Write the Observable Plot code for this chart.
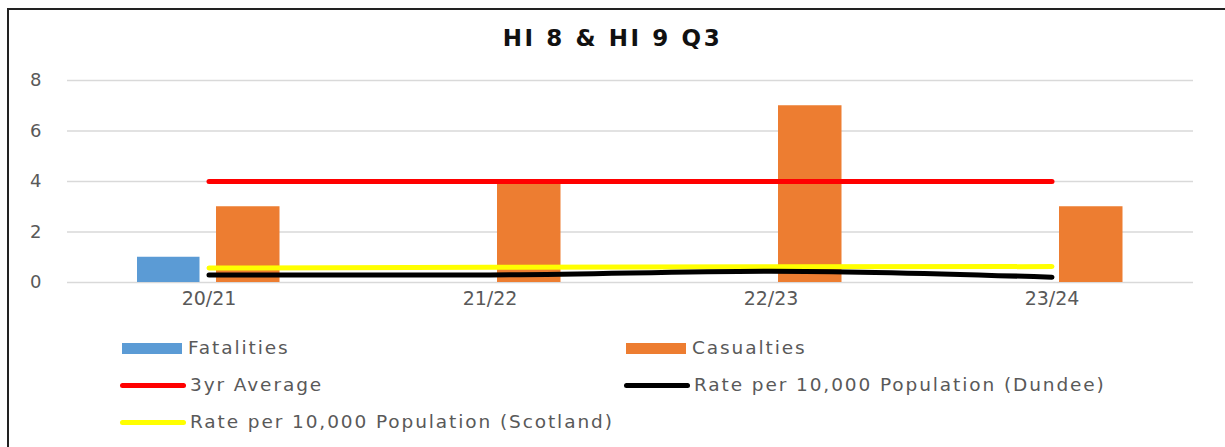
<!DOCTYPE html>
<html>
<head>
<meta charset="utf-8">
<script src="https://cdn.jsdelivr.net/npm/d3@7"></script>
<script src="https://cdn.jsdelivr.net/npm/@observablehq/plot@0.6"></script>
<style>
  html, body { margin: 0; padding: 0; background: #fff; }
  #wrap { position: relative; width: 1225px; height: 447px; overflow: hidden; background: #fff; }
  #frame { position: absolute; left: 7px; top: 8px; width: 1300px; height: 500px; border-left: 2px solid #222; border-top: 2px solid #222; }
  #title { position: absolute; left: 0; width: 1225px; top: 25px; text-align: center; font-family: "DejaVu Sans", sans-serif; font-weight: bold; font-size: 23px; letter-spacing: 2.6px; color: #111; }
  #chart { position: absolute; left: 0; top: 0; }
  .leg { position: absolute; font-family: "DejaVu Sans", sans-serif; font-size: 18.5px; letter-spacing: 1.9px; color: #595959; height: 22px; line-height: 22px; white-space: nowrap; }
  .sw { position: absolute; }
</style>
</head>
<body>
<div id="wrap">
  <div id="frame"></div>
  <div id="title"></div>
  <div id="chart"></div>
  <div id="legend"></div>
</div>
<script>
const title = "HI 8 & HI 9 Q3";
const years = ["20/21", "21/22", "22/23", "23/24"];
const fatalities = [1, 0, 0, 0];
const casualties = [3, 4, 7, 3];
const avg3yr = [4, 4, 4, 4];
const rateDundee = [0.3, 0.3, 0.45, 0.21];
const rateScotland = [0.57, 0.6, 0.62, 0.63];
const yTicks = [0, 2, 4, 6, 8];
const seriesNames = ["Fatalities", "Casualties", "3yr Average", "Rate per 10,000 Population (Dundee)", "Rate per 10,000 Population (Scotland)"];
const seriesColors = ["#5b9bd5", "#ed7d31", "#ff0000", "#000000", "#ffff00"];

document.getElementById("title").textContent = title;

const rows = years.map((y, i) => ({
  year: y,
  fatalities: fatalities[i],
  casualties: casualties[i],
  avg: avg3yr[i],
  dundee: rateDundee[i],
  scotland: rateScotland[i]
}));

const chart = Plot.plot({
  width: 1225,
  height: 310,
  marginLeft: 67,
  marginRight: 32,
  marginTop: 80,
  marginBottom: 28,
  style: { fontFamily: "DejaVu Sans, sans-serif", fontSize: "17px", color: "#595959", background: "transparent", overflow: "visible" },
  x: { domain: years, padding: 0, label: null },
  y: { domain: [0, 8], label: null },
  marks: [
    Plot.ruleY(yTicks, { stroke: "#d9d9d9", strokeWidth: 1.5 }),
    Plot.barY(rows, { x: "year", y: "fatalities", fill: seriesColors[0], insetLeft: 69, insetRight: 149.5 }),
    Plot.barY(rows, { x: "year", y: "casualties", fill: seriesColors[1], insetLeft: 148, insetRight: 69.5 }),
    Plot.line(rows, { x: "year", y: "avg", stroke: seriesColors[2], strokeWidth: 5, strokeLinecap: "round" }),
    Plot.line(rows, { x: "year", y: "scotland", stroke: seriesColors[4], strokeWidth: 5, strokeLinecap: "round" }),
    Plot.line(rows, { x: "year", y: "dundee", stroke: seriesColors[3], strokeWidth: 5, strokeLinecap: "round", curve: "monotone-x" }),
    Plot.axisX({ tickSize: 0, tickPadding: 9, label: null, fontSize: 19, style: "letter-spacing:2.4px" }),
    Plot.axisY({ ticks: yTicks, tickSize: 0, tickPadding: 26, label: null, fontSize: 18 })
  ]
});
document.getElementById("chart").appendChild(chart);

// Legend
const legend = document.getElementById("legend");
const legItems = [
  { name: seriesNames[0], color: seriesColors[0], kind: "bar", x: 122, y: 348 },
  { name: seriesNames[1], color: seriesColors[1], kind: "bar", x: 626, y: 348 },
  { name: seriesNames[2], color: seriesColors[2], kind: "line", x: 120, y: 385 },
  { name: seriesNames[3], color: seriesColors[3], kind: "line", x: 624, y: 385 },
  { name: seriesNames[4], color: seriesColors[4], kind: "line", x: 120, y: 422 }
];
legItems.forEach(it => {
  const sw = document.createElement("div");
  sw.className = "sw";
  if (it.kind === "bar") {
    sw.style.left = it.x + "px"; sw.style.top = (it.y - 5) + "px";
    sw.style.width = "60px"; sw.style.height = "11px";
  } else {
    sw.style.left = it.x + "px"; sw.style.top = (it.y - 2.5) + "px";
    sw.style.width = "66px"; sw.style.height = "5px"; sw.style.borderRadius = "3px";
  }
  sw.style.background = it.color;
  legend.appendChild(sw);
  const t = document.createElement("div");
  t.className = "leg";
  t.style.left = (it.x + (it.kind === "bar" ? 66 : 70)) + "px";
  t.style.top = (it.y - 11) + "px";
  t.textContent = it.name;
  legend.appendChild(t);
});
</script>
</body>
</html>
